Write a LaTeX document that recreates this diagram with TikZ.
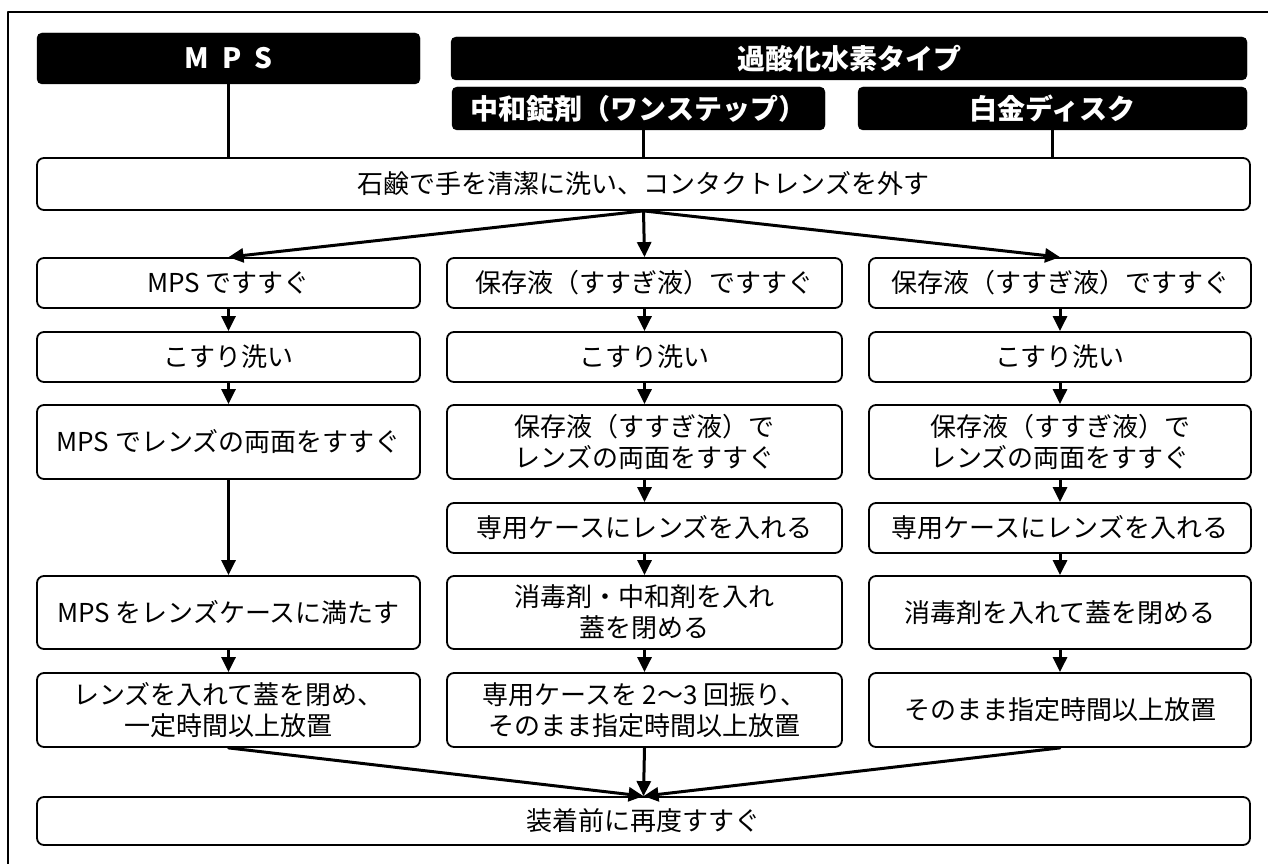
\documentclass[tikz,border=0pt]{standalone}
\usepackage{fontspec}
\setmainfont{Noto Sans CJK JP}
\usetikzlibrary{arrows.meta}

\tikzset{
  headbox/.style={fill=black,draw=black,rounded corners=5pt,text=white,inner sep=0pt,font=\bfseries\fontsize{28}{30}\selectfont},
  stepbox/.style={draw,fill=white,line width=1.8pt,rounded corners=7pt,inner sep=0pt,align=center,font=\fontsize{26}{31}\selectfont},
  colA/.style={stepbox,minimum width=383pt},
  colB/.style={stepbox,minimum width=395pt},
  colC/.style={stepbox,minimum width=382pt},
  wide/.style={stepbox,minimum width=1213pt},
  flow/.style={line width=3pt,-{Triangle[length=15pt,width=14pt]}},
}

\begin{document}
\begin{tikzpicture}[x=1pt,y=-1pt,line cap=round,line join=round]
\useasboundingbox (0,0) rectangle (1268,864);
\draw [line width=1.4pt] (1268,12) -- (8,12) -- (8,864);
\node [headbox,minimum width=383pt,minimum height=51pt] (mps) at (228.5,58.5) {M\ \ P\ \ S};
\node [headbox,minimum width=796pt,minimum height=43pt] (h2o2) at (849,58.5) {過酸化水素タイプ};
\node [headbox,minimum width=373pt,minimum height=43pt] (neut) at (638.5,108.5) {中和錠剤（ワンステップ）};
\node [headbox,minimum width=389pt,minimum height=43pt] (disk) at (1052.5,108.5) {白金ディスク};
\node [wide,minimum height=52pt] (wash) at (643.5,184) {石鹸で手を清潔に洗い、コンタクトレンズを外す};
\draw [line width=2.8pt] (mps.south) -- (mps.south |- wash.north);
\draw [line width=2.8pt] (wash.north |- neut.south) -- (wash.north);
\draw [line width=2.8pt] (disk.south) -- (disk.south |- wash.north);
\node [colA,minimum height=50pt] (a1) at (228.5,283) {MPS ですすぐ};
\node [colA,minimum height=50pt] (a2) at (228.5,357) {こすり洗い};
\node [colA,minimum height=74pt] (a3) at (228.5,442) {MPS でレンズの両面をすすぐ};
\node [colA,minimum height=73pt] (a5) at (228.5,612.5) {MPS をレンズケースに満たす};
\node [colA,minimum height=74pt] (a6) at (228.5,710) {レンズを入れて蓋を閉め、\\一定時間以上放置};
\node [colB,minimum height=50pt] (b1) at (644.5,283) {保存液（すすぎ液）ですすぐ};
\node [colB,minimum height=50pt] (b2) at (644.5,357) {こすり洗い};
\node [colB,minimum height=74pt] (b3) at (644.5,442) {保存液（すすぎ液）で\\レンズの両面をすすぐ};
\node [colB,minimum height=50pt] (b4) at (644.5,528) {専用ケースにレンズを入れる};
\node [colB,minimum height=73pt] (b5) at (644.5,612.5) {消毒剤・中和剤を入れ\\蓋を閉める};
\node [colB,minimum height=74pt] (b6) at (644.5,710) {専用ケースを 2〜3 回振り、\\そのまま指定時間以上放置};
\node [colC,minimum height=50pt] (c1) at (1060,283) {保存液（すすぎ液）ですすぐ};
\node [colC,minimum height=50pt] (c2) at (1060,357) {こすり洗い};
\node [colC,minimum height=74pt] (c3) at (1060,442) {保存液（すすぎ液）で\\レンズの両面をすすぐ};
\node [colC,minimum height=50pt] (c4) at (1060,528) {専用ケースにレンズを入れる};
\node [colC,minimum height=73pt] (c5) at (1060,612.5) {消毒剤を入れて蓋を閉める};
\node [colC,minimum height=74pt] (c6) at (1060,710) {そのまま指定時間以上放置};
\node [wide,minimum height=48pt] (rinse) at (643.5,821) {装着前に再度すすぐ};
\draw [flow] (wash.south) -- (a1.north);
\draw [flow] (wash.south) -- (b1.north);
\draw [flow] (wash.south) -- (c1.north);
\draw [flow] (a1) -- (a2);
\draw [flow] (a2) -- (a3);
\draw [flow] (a3) -- (a5);
\draw [flow] (a5) -- (a6);
\draw [flow] (b1) -- (b2);
\draw [flow] (b2) -- (b3);
\draw [flow] (b3) -- (b4);
\draw [flow] (b4) -- (b5);
\draw [flow] (b5) -- (b6);
\draw [flow] (c1) -- (c2);
\draw [flow] (c2) -- (c3);
\draw [flow] (c3) -- (c4);
\draw [flow] (c4) -- (c5);
\draw [flow] (c5) -- (c6);
\draw [flow] (a6.south) -- (rinse.north);
\draw [flow] (b6.south) -- (rinse.north);
\draw [flow] (c6.south) -- (rinse.north);
\end{tikzpicture}
\end{document}
